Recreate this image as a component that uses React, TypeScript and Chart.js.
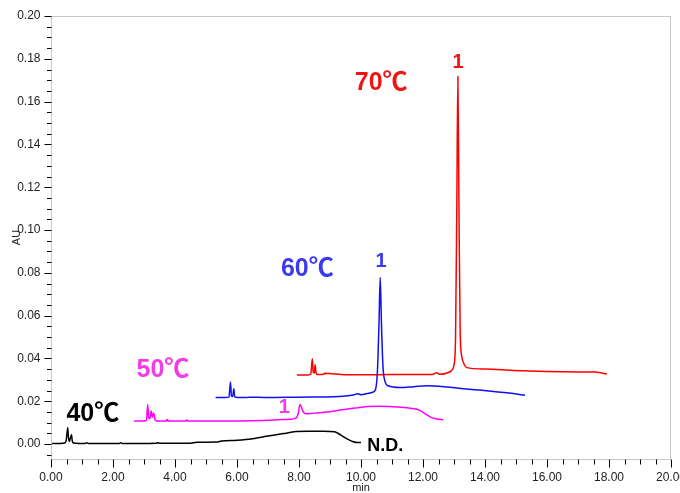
import { useEffect, useRef } from 'react';
import { Chart, registerables } from 'chart.js';

Chart.register(...registerables);

// ---- data (retention time in min, absorbance in AU) ----
const t40 = [0.02, 0.3, 0.46, 0.49, 0.52, 0.54, 0.56, 0.59, 0.62, 0.66, 0.69, 0.73, 0.9, 1.1, 1.15, 1.2, 1.6, 2.2, 2.25, 2.3, 2.8, 3.4, 3.45, 3.5, 4.0, 4.5, 4.7, 5.35, 5.5, 6.0, 6.5, 7.0, 7.5, 7.9, 8.3, 8.8, 9.15, 9.35, 9.55, 9.75, 9.9, 10.0];
const a40 = [0.0003, 0.0003, 0.0006, 0.0018, 0.0055, 0.0076, 0.0035, 0.0012, 0.0025, 0.0043, 0.0012, 0.0005, 0.0003, 0.0003, 0.0006, 0.0003, 0.0003, 0.0003, 0.0006, 0.0003, 0.0003, 0.0004, 0.0006, 0.0004, 0.0004, 0.0004, 0.0008, 0.0009, 0.0014, 0.0018, 0.0025, 0.0037, 0.0049, 0.0058, 0.006, 0.006, 0.0057, 0.0042, 0.0024, 0.0011, 0.0007, 0.0007];

const t50 = [2.68, 3.0, 3.08, 3.12, 3.15, 3.19, 3.23, 3.27, 3.31, 3.36, 3.5, 3.72, 3.75, 3.78, 4.35, 4.38, 4.41, 5.5, 6.5, 7.2, 7.7, 7.9, 7.98, 8.03, 8.07, 8.12, 8.2, 8.3, 8.6, 9.0, 9.4, 9.8, 10.2, 10.6, 10.95, 11.3, 11.6, 11.9, 12.12, 12.3, 12.45, 12.65];
const a50 = [0.0107, 0.0107, 0.0112, 0.0185, 0.0125, 0.0118, 0.0154, 0.0125, 0.0145, 0.0112, 0.0107, 0.0108, 0.0115, 0.0108, 0.0108, 0.0113, 0.0108, 0.0108, 0.0109, 0.0112, 0.0116, 0.0121, 0.0145, 0.0185, 0.0175, 0.0155, 0.0143, 0.0142, 0.0146, 0.0151, 0.016, 0.0168, 0.0175, 0.0177, 0.0175, 0.0172, 0.0167, 0.0157, 0.0137, 0.0122, 0.0117, 0.0113];

const t60 = [5.31, 5.6, 5.74, 5.79, 5.82, 5.86, 5.9, 5.92, 5.96, 6.1, 6.3, 6.4, 7.0, 8.0, 8.9, 9.3, 9.5, 9.75, 9.9, 10.0, 10.2, 10.38, 10.47, 10.53, 10.58, 10.62, 10.66, 10.71, 10.77, 10.88, 11.26, 11.7, 12.12, 12.8, 13.41, 14.2, 14.91, 15.29];
const a60 = [0.0217, 0.0217, 0.0219, 0.029, 0.0225, 0.0222, 0.0258, 0.0225, 0.0218, 0.0217, 0.0217, 0.0219, 0.0217, 0.0219, 0.022, 0.0222, 0.0224, 0.0229, 0.0235, 0.023, 0.0236, 0.0242, 0.0256, 0.034, 0.056, 0.0778, 0.056, 0.036, 0.0295, 0.0272, 0.0264, 0.0268, 0.0272, 0.0266, 0.0257, 0.0247, 0.0236, 0.0228];

const t70 = [7.93, 8.3, 8.38, 8.43, 8.46, 8.49, 8.52, 8.55, 8.58, 8.8, 8.83, 9.5, 10.5, 11.5, 12.3, 12.44, 12.55, 12.8, 12.92, 13.0, 13.05, 13.09, 13.125, 13.16, 13.2, 13.25, 13.32, 13.41, 14.0, 14.91, 15.99, 17.0, 17.55, 17.8, 17.93];
const a70 = [0.0323, 0.0323, 0.0326, 0.0398, 0.0335, 0.0331, 0.037, 0.0333, 0.0325, 0.0326, 0.0331, 0.0324, 0.0324, 0.0325, 0.0325, 0.0333, 0.0326, 0.0333, 0.0343, 0.037, 0.05, 0.11, 0.1717, 0.11, 0.052, 0.041, 0.0375, 0.0357, 0.035, 0.0344, 0.0339, 0.0337, 0.0336, 0.0331, 0.0327];

const xTickValues = [0, 2, 4, 6, 8, 10, 12, 14, 16, 18, 20];
const yTickValues = [0, 0.02, 0.04, 0.06, 0.08, 0.1, 0.12, 0.14, 0.16, 0.18, 0.2];

// annotation texts and their anchor points in data coordinates
const annTexts = ['70℃', '1', '60℃', '1', '50℃', '1', '40℃', 'N.D.'];
const annX = [10.65, 13.13, 8.27, 10.65, 3.61, 7.53, 1.35, 10.2];
const annY = [0.1687, 0.1785, 0.0816, 0.0851, 0.0347, 0.017, 0.0142, -0.001];

const FONT = '"Liberation Sans", "Noto Sans CJK JP", Arial, sans-serif';
const annColors = ['#f01414', '#f01414', '#3a3af0', '#3a3af0', '#f23ce6', '#f23ce6', '#000000', '#000000'];
const annSizes = [25, 20, 25, 20, 25, 20, 25, 18];
const annAlign: CanvasTextAlign[] = ['center', 'center', 'center', 'center', 'center', 'center', 'center', 'left'];

const toPoints = (t: number[], a: number[]) => t.map((x, i) => ({ x, y: a[i] }));

const framePlugin = {
  id: 'frameTicks',
  afterDatasetsDraw(chart: any) {
    const { ctx, scales } = chart;
    const xs = scales.x;
    const ys = scales.y;
    ctx.save();
    for (let i = 0; i < annTexts.length; i++) {
      ctx.font = `bold ${annSizes[i]}px ${FONT}`;
      ctx.fillStyle = annColors[i];
      ctx.textAlign = annAlign[i];
      ctx.textBaseline = 'middle';
      ctx.fillText(annTexts[i], xs.getPixelForValue(annX[i]), ys.getPixelForValue(annY[i]));
    }
    ctx.restore();
  },
  afterDraw(chart: any) {
    const { ctx, chartArea: ca, scales } = chart;
    const xs = scales.x;
    const ys = scales.y;
    ctx.save();
    ctx.strokeStyle = '#c8c8c8';
    ctx.lineWidth = 1;
    const l = Math.round(ca.left) + 0.5;
    const r = Math.round(ca.right) - 0.5;
    const t = Math.round(ca.top) + 0.5;
    const b = Math.round(ca.bottom) + 0.5;
    ctx.strokeRect(l, t, r - l, b - t);
    ctx.strokeStyle = '#000';
    ctx.beginPath();
    for (let i = 0; i <= 40; i++) {
      const px = Math.round(xs.getPixelForValue(i * 0.5)) + 0.5;
      const len = i % 4 === 0 ? 8 : 5;
      ctx.moveTo(px, b);
      ctx.lineTo(px, b + len);
    }
    for (let i = -1; i <= 40; i++) {
      const py = Math.round(ys.getPixelForValue(i * 0.005)) + 0.5;
      const len = i % 4 === 0 ? 7 : 4.5;
      ctx.moveTo(l - len, py);
      ctx.lineTo(l, py);
    }
    ctx.stroke();
    ctx.restore();
  },
};

export default function App() {
  const ref = useRef<HTMLCanvasElement | null>(null);
  useEffect(() => {
    if (!ref.current) return;
    const chart = new Chart(ref.current, {
      type: 'line',
      data: {
        datasets: [
          { label: '40℃', data: toPoints(t40, a40), borderColor: '#000000', borderWidth: 1.5 },
          { label: '50℃', data: toPoints(t50, a50), borderColor: '#ff00ff', borderWidth: 1.5 },
          { label: '60℃', data: toPoints(t60, a60), borderColor: '#1010f0', borderWidth: 1.5 },
          { label: '70℃', data: toPoints(t70, a70), borderColor: '#ff0000', borderWidth: 1.5 },
        ],
      },
      options: {
        animation: false,
        responsive: false,
        maintainAspectRatio: false,
        layout: { padding: { top: 16, right: 9, left: 0, bottom: 0 } },
        plugins: { legend: { display: false }, tooltip: { enabled: false } },
        elements: {
          point: { radius: 0 },
          line: { cubicInterpolationMode: 'monotone', fill: false },
        },
        scales: {
          x: {
            type: 'linear',
            min: 0,
            max: 20,
            grid: { display: false, drawTicks: false },
            border: { display: false },
            ticks: {
              padding: 11,
              color: '#222',
              font: { family: FONT, size: 12 },
              maxRotation: 0,
              autoSkip: false,
              callback: (v: any) => Number(v).toFixed(2),
            },
            afterBuildTicks: (s: any) => {
              s.ticks = xTickValues.map((v) => ({ value: v }));
            },
            title: {
              display: true,
              text: 'min',
              color: '#222',
              font: { family: FONT, size: 11, lineHeight: 1 },
              padding: { top: 0, bottom: 0 },
            },
            afterFit: (s: any) => {
              s.height = 34;
              s.paddingLeft = 0;
              s.paddingRight = 0;
            },
          },
          y: {
            type: 'linear',
            min: -0.007,
            max: 0.2,
            grid: { display: false, drawTicks: false },
            border: { display: false },
            ticks: {
              padding: 10.5,
              color: '#222',
              font: { family: FONT, size: 12 },
              autoSkip: false,
              callback: (v: any) => Number(v).toFixed(2),
            },
            afterBuildTicks: (s: any) => {
              s.ticks = yTickValues.map((v) => ({ value: v }));
            },
            title: {
              display: true,
              text: 'AU',
              color: '#222',
              font: { family: FONT, size: 11, lineHeight: 1.2 },
              padding: { top: 10.4, bottom: 0 },
            },
            afterFit: (s: any) => {
              s.width = 51;
              s.paddingTop = 0;
              s.paddingBottom = 0;
            },
          },
        },
      },
      plugins: [framePlugin],
    } as any);
    return () => chart.destroy();
  }, []);
  return (
    <div style={{ position: 'fixed', left: 0, top: 0, width: 680, height: 493, background: '#fff' }}>
      <canvas ref={ref} width={680} height={493} style={{ display: 'block' }} />
    </div>
  );
}
